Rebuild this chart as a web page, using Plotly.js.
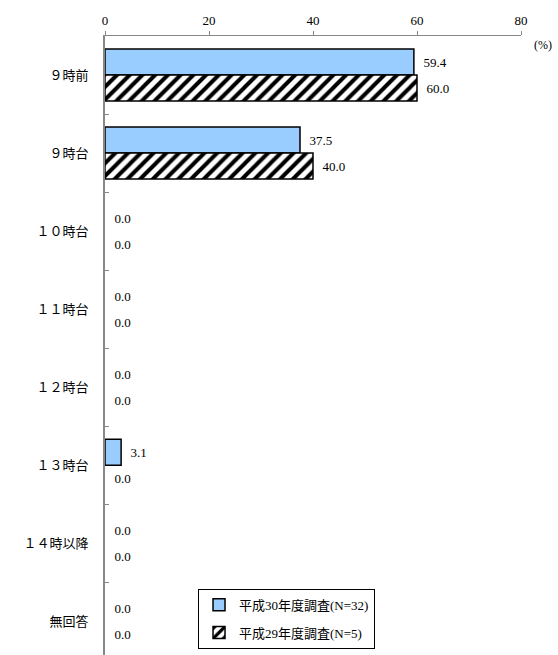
<!DOCTYPE html>
<html>
<head>
<meta charset="utf-8">
<script src="https://cdn.plot.ly/plotly-3.0.1.min.js"></script>
<style>html,body{margin:0;padding:0;background:#fff;}#chart{width:558px;height:655px;}</style>
</head>
<body>
<div id="chart"></div>
<script>
var categories = ["９時前", "９時台", "１０時台", "１１時台", "１２時台", "１３時台", "１４時以降", "無回答"];
var seriesNames = ["平成30年度調査(N=32)", "平成29年度調査(N=5)"];
var valuesH30 = [59.4, 37.5, 0.0, 0.0, 0.0, 3.1, 0.0, 0.0];
var valuesH29 = [60.0, 40.0, 0.0, 0.0, 0.0, 0.0, 0.0, 0.0];
var xTicks = [0, 20, 40, 60, 80];

var FONT = "'Liberation Serif', 'Noto Sans CJK JP', serif";
var pad = "\u00a0\u00a0";

function lineWidths(vals){ return vals.map(function(v){ return v > 0 ? 1.5 : 0; }); }

var traces = [
  {
    type: "bar", orientation: "h",
    name: seriesNames[0],
    y: categories, x: valuesH30,
    text: valuesH30.map(function(v){return pad + v.toFixed(1);}),
    textposition: "outside", cliponaxis: false, constraintext: "none",
    textfont: {family: FONT, size: 13, color: "#000000"},
    marker: {color: "#99CCFF", line: {color: "#000", width: lineWidths(valuesH30)}},
    legendgroup: "a", hoverinfo: "none"
  },
  {
    type: "bar", orientation: "h",
    name: seriesNames[1],
    y: categories, x: valuesH29,
    text: valuesH29.map(function(v){return pad + v.toFixed(1);}),
    textposition: "outside", cliponaxis: false, constraintext: "none",
    textfont: {family: FONT, size: 13, color: "#000000"},
    marker: {color: "#ffffff", line: {color: "#000", width: lineWidths(valuesH29)},
      pattern: {shape: "/", fgcolor: "#000", bgcolor: "#fff", size: 9, solidity: 0.45}},
    legendgroup: "b", hoverinfo: "none"
  }
];

var layout = {
  width: 558, height: 655,
  margin: {l: 105, r: 37, t: 36, b: 0, pad: 0},
  paper_bgcolor: "#fff", plot_bgcolor: "#fff",
  font: {family: FONT, size: 13, color: "#000"},
  barmode: "group", bargap: 0.333, bargroupgap: 0,
  xaxis: {
    side: "top", range: [0, 80], tickvals: xTicks, ticktext: xTicks.map(String),
    showgrid: false, zeroline: false, showline: true, linecolor: "#888", linewidth: 1.5,
    ticks: "outside", ticklen: 4, tickcolor: "#888", tickfont: {family: FONT, size: 13}
  },
  yaxis: {
    type: "category", range: [7.43, -0.5], autorange: false,
    showgrid: false, zeroline: false, showline: true, linecolor: "#888", linewidth: 2,
    ticks: "inside", tickson: "boundaries", ticklen: 4, tickcolor: "#888",
    tickfont: {family: FONT, size: 13}, ticklabelstandoff: 12
  },
  showlegend: true,
  legend: {
    x: 0.2236, y: 0.107, xanchor: "left", yanchor: "top",
    bordercolor: "#000", borderwidth: 1, bgcolor: "#fff",
    traceorder: "grouped", tracegroupgap: 8,
    font: {family: FONT, size: 13}, itemwidth: 30
  },
  annotations: [{
    text: "(%)", xref: "paper", yref: "paper", x: 1.08, y: 1, yshift: -9,
    xanchor: "right", yanchor: "middle", showarrow: false, font: {family: FONT, size: 12}
  }]
};

Plotly.newPlot("chart", traces, layout, {staticPlot: true});
</script>
</body>
</html>
